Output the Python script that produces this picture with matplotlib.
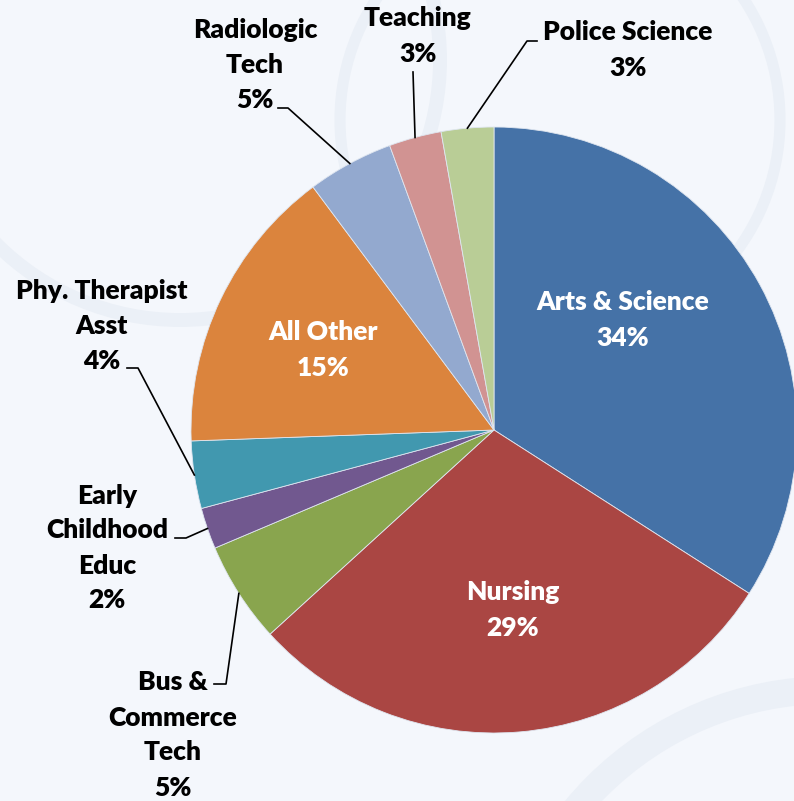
import matplotlib.pyplot as plt
from matplotlib.patches import Circle
import numpy as np

plt.rcParams['font.family'] = ['Lato', 'DejaVu Sans']

# Доли программ (в процентах), по часовой стрелке от 12 часов
programs = ["Arts & Science", "Nursing", "Bus &\nCommerce\nTech", "Early\nChildhood\nEduc",
            "Phy. Therapist\nAsst", "All Other", "Radiologic\nTech", "Teaching", "Police Science"]
shares = [34.1, 29.2, 5.4, 2.2, 3.6, 15.4, 4.6, 2.8, 2.8]
colors = ["#4572A7", "#AA4643", "#89A54E", "#71588F", "#4198AF",
          "#DB843D", "#93A9CF", "#D19392", "#B9CD96"]
inside = [True, True, False, False, False, True, False, False, False]

W, H = 794, 801
CX, CY, R = 494, 430, 303

# положения подписей (пиксели, y сверху вниз) и точки излома выносок
label_pos = [(623, 320), (513, 610), (173, 735), (107, 548),
             (102, 326), (323, 350), (255, 65), (418, 36), (628, 50)]
elbows = [None, None, [(214, 684), (226, 684)], [(175, 538), (186, 538)],
          [(127, 368), (138, 368)], None, [(278, 108), (288, 108)],
          [(413, 72)], [(537, 41), (527, 41)]]


def fy(y):
    return H - y


fig = plt.figure(figsize=(W / 100, H / 100), dpi=100)
fig.patch.set_facecolor("#f4f7fc")
ax = fig.add_axes([0, 0, 1, 1])

# фон: бледные кольца
for (x, y, r, lw) in [(830, 1020, 330, 20), (180, 60, 260, 10), (560, 120, 220, 8)]:
    ax.add_patch(Circle((x, fy(y)), r, fill=False, edgecolor="#ebf0f7",
                        linewidth=lw, zorder=0))

wedges, _ = ax.pie(shares, colors=colors, startangle=90, counterclock=False,
                   center=(CX, fy(CY)), radius=R, frame=True,
                   wedgeprops=dict(linewidth=0.6, edgecolor="#dfe6f0"))
ax.set_xlim(0, W)
ax.set_ylim(0, H)
ax.set_aspect("equal")
ax.axis("off")

for w, name, val, ins, pos, elb in zip(wedges, programs, shares, inside, label_pos, elbows):
    txt = f"{name}\n{val:.0f}%"
    ax.text(pos[0], fy(pos[1]), txt, ha="center", va="center",
            color="white" if ins else "black",
            fontsize=19, fontweight="heavy", linespacing=1.55)
    if ins:
        continue
    mid = np.deg2rad((w.theta1 + w.theta2) / 2)
    px = CX + R * np.cos(mid)
    py = fy(CY) + R * np.sin(mid)
    xs = [p[0] for p in elb] + [px]
    ys = [fy(p[1]) for p in elb] + [py]
    ax.plot(xs, ys, color="black", linewidth=1.2, zorder=3)

fig.savefig("out.png", dpi=100, facecolor=fig.get_facecolor())
